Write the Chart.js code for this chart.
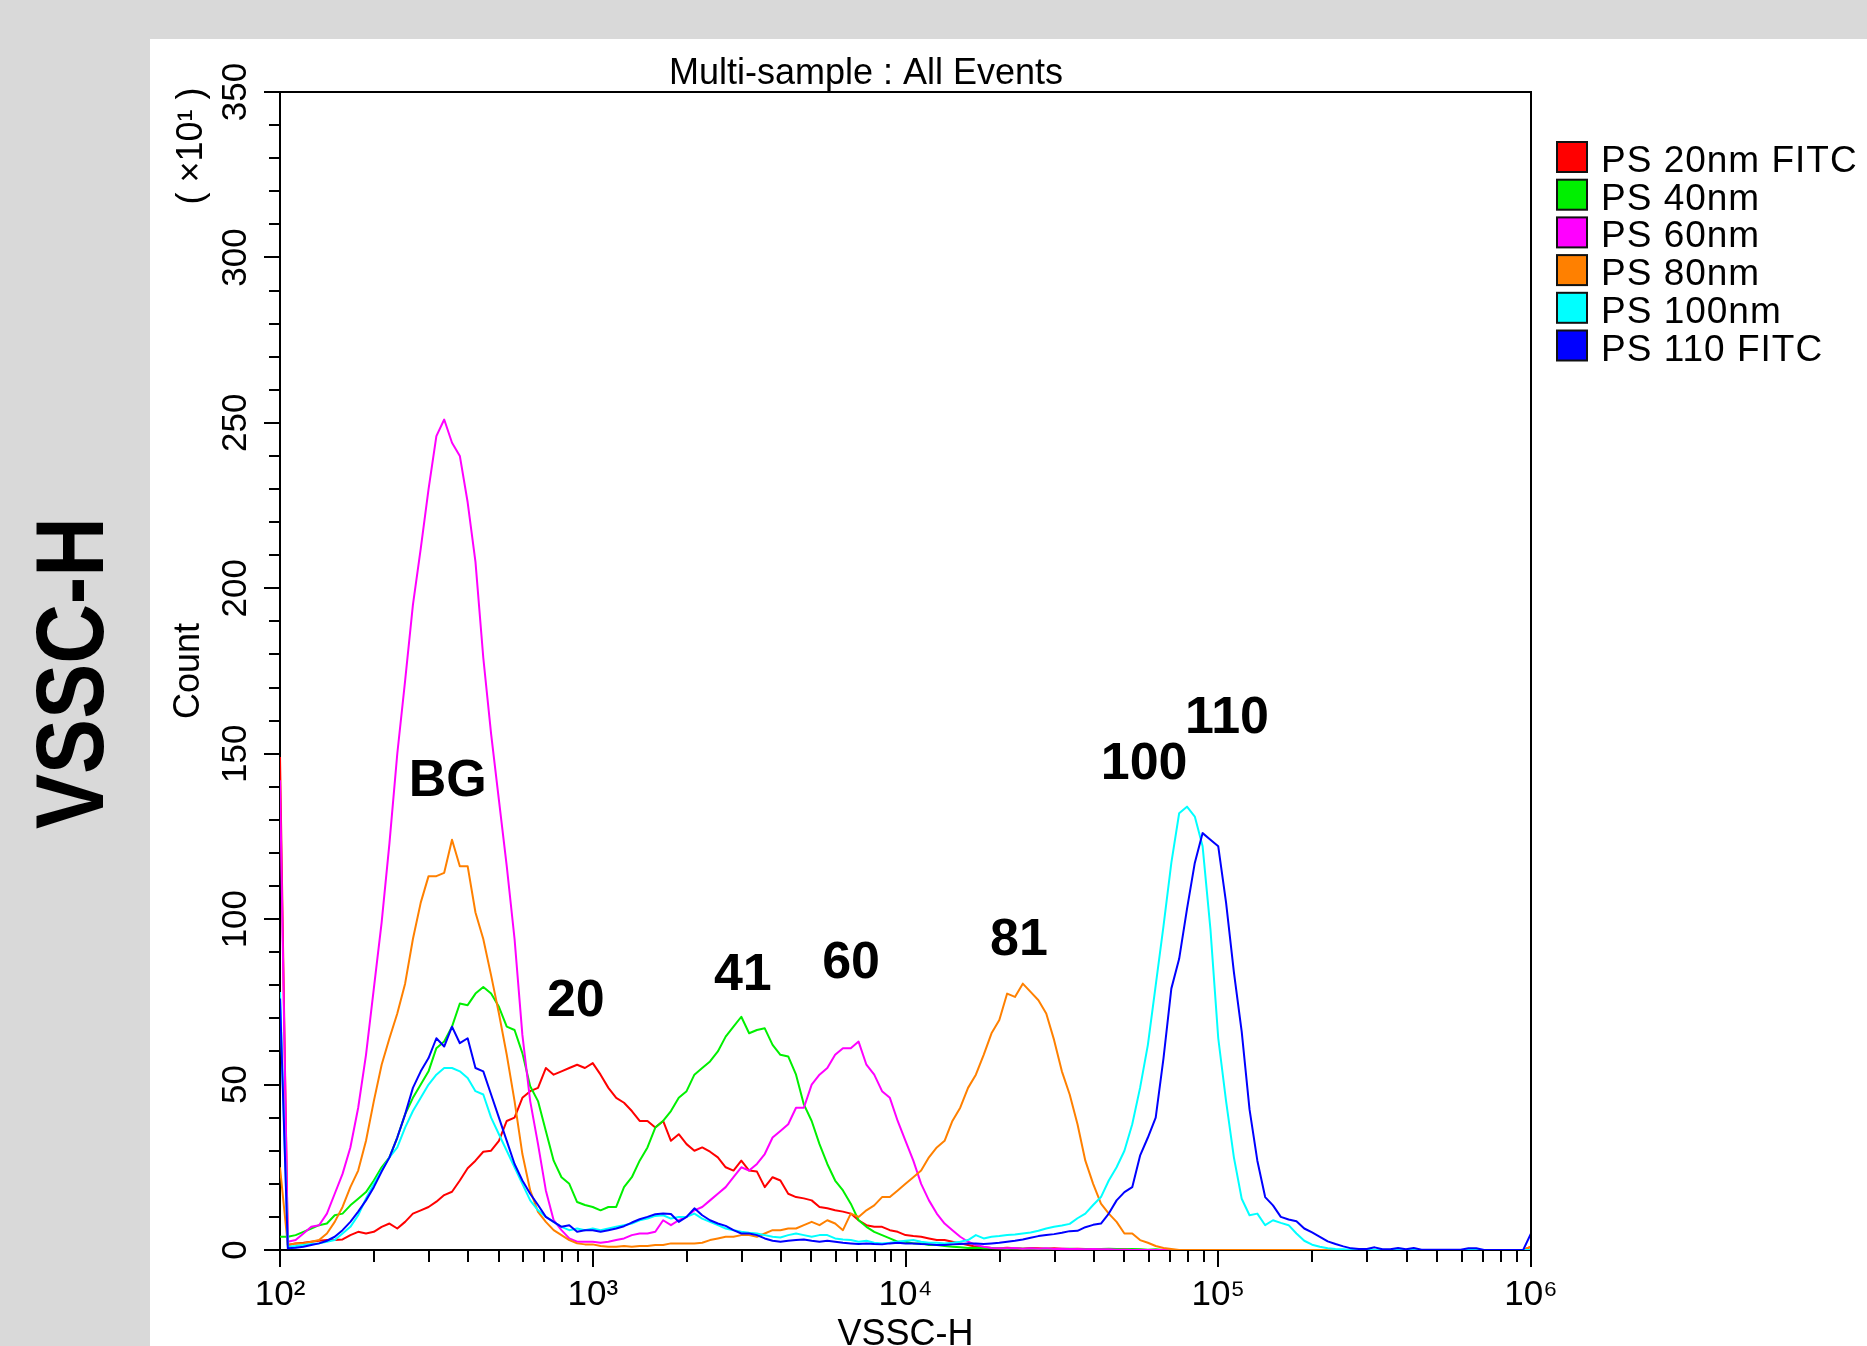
<!DOCTYPE html>
<html>
<head>
<meta charset="utf-8">
<script src="https://cdn.jsdelivr.net/npm/chart.js@4.4.1/dist/chart.umd.min.js"></script>
<style>
html, body { margin: 0; padding: 0; width: 1867px; height: 1346px; overflow: hidden; background: #d9d9d9; }
canvas { display: block; }
</style>
</head>
<body>
<canvas id="c" width="1867" height="1346"></canvas>
<script>
// ---------- data ----------
// channel positions (log10 of VSSC-H)
const channelExp = [
  2.000,2.025,2.050,2.075,2.100,2.125,2.150,2.175,
  2.200,2.225,2.250,2.275,2.300,2.325,2.350,2.375,
  2.400,2.425,2.450,2.475,2.500,2.525,2.550,2.575,
  2.600,2.625,2.650,2.675,2.700,2.725,2.750,2.775,
  2.800,2.825,2.850,2.875,2.900,2.925,2.950,2.975,
  3.000,3.025,3.050,3.075,3.100,3.125,3.150,3.175,
  3.200,3.225,3.250,3.275,3.300,3.325,3.350,3.375,
  3.400,3.425,3.450,3.475,3.500,3.525,3.550,3.575,
  3.600,3.625,3.650,3.675,3.700,3.725,3.750,3.775,
  3.800,3.825,3.850,3.875,3.900,3.925,3.950,3.975,
  4.000,4.025,4.050,4.075,4.100,4.125,4.150,4.175,
  4.200,4.225,4.250,4.275,4.300,4.325,4.350,4.375,
  4.400,4.425,4.450,4.475,4.500,4.525,4.550,4.575,
  4.600,4.625,4.650,4.675,4.700,4.725,4.750,4.775,
  4.800,4.825,4.850,4.875,4.900,4.925,4.950,4.975,
  5.000,5.025,5.050,5.075,5.100,5.125,5.150,5.175,
  5.200,5.225,5.250,5.275,5.300,5.325,5.350,5.375,
  5.400,5.425,5.450,5.475,5.500,5.525,5.550,5.575,
  5.600,5.625,5.650,5.675,5.700,5.725,5.750,5.775,
  5.800,5.825,5.850,5.875,5.900,5.925,5.950,5.975,
  6.000
];

const seriesLabels = ['PS 20nm FITC', 'PS 40nm', 'PS 60nm', 'PS 80nm', 'PS 100nm', 'PS 110 FITC'];

// counts (x10^1)
const ps20 = [
  149,1.5,2,2.2,2.5,2.8,3,3,3.2,4.5,
  5.5,5,5.5,7,8,6.5,8.5,11,12,13,
  14.6,16.6,17.6,21,24.7,27,29.7,30,33,39,
  40,46,48,49,55,53,54,55,56,55,
  56.5,53,49,46,44.5,42,39,39,37,39,
  33,35,32,30,31,29.7,28,25,24,27,
  24,23.7,19,22,21,17,16,15.6,15,13,
  12.6,12,11.6,11,9,7.5,7,7,6,5.5,
  4.5,4.2,4,3.5,3,3,2.5,2,1.5,1,
  0.8,0.6,0.5,0.7,0.5,0.4,0.6,0.5,0.4,0.5,
  0.4,0.3,0.4,0.3,0.3,0.2,0.3,0.2,0.2,0.1,
  0.1,0,0,0,0,0,0,0,0,0,
  0,0,0,0,0,0,0,0,0,0,
  0,0,0,0,0,0,0,0,0,0,
  0,0,0,0,0,0,0,0,0,0,
  0,0,0,0,0,0,0,0,0,0,
  1
];
const ps40 = [
  4,4,4.5,5.5,6.5,7.5,8,10.5,11,13.5,
  15.5,17.5,21,25,28,34,41,46,50,54,
  61,63,67.5,74.5,74,77.5,79.5,77.5,73.5,67.5,
  66.5,59.5,49.5,45,36,27,22,20,14.5,13.6,
  13,12,13,13,19,22,27,31,37,39,
  42,46,48,53,55,57,60,64.5,67.5,70.5,
  65.5,66.5,67,62,59,58.5,53,44,39,32,
  26,21,18,14,9,7,5.5,4.5,3.5,2.5,
  2.5,2,2,1.5,1.5,1.2,1,0.8,0.6,0.7,
  0.5,0.6,0.5,0.4,0.5,0.4,0.4,0.3,0.4,0.3,
  0.3,0.4,0.3,0.3,0.2,0.3,0.4,0.3,0.2,0.3,
  0.2,0.1,0.2,0,0,0,0,0,0,0,
  0,0,0,0,0,0,0,0,0,0,
  0,0,0,0,0,0,0,0,0,0,
  0,0,0,0,0,0,0,0,0,0,
  0,0,0,0,0,0,0,0,0,0,
  0
];
const ps60 = [
  142,2.5,3,5,7,7.5,11,17,23,31,
  43,59,79,99,123,150,172,195,212,230,
  246,251,244,240,226,208,179,156,136,116,
  94,65,45,32,18,9,6,3.5,2.5,2.5,
  2.5,2.2,2.5,3,3.5,4.5,5,5,5.5,9,
  7.5,9,10,12,13,15,17,19,22,25,
  24,26,29,34,36,38,43,43,50,53,
  55,59,61,61,63,56,53,48,46,39,
  33,27,20,15,11,8,6,4,2.5,1.5,
  1,0.6,0.5,0.5,0.6,0.4,0.5,0.4,0.5,0.3,
  0.4,0.3,0.3,0.2,0.3,0.2,0.2,0.1,0.1,0,
  0,0,0,0,0,0,0,0,0,0,
  0,0,0,0,0,0,0,0,0,0,
  0,0,0,0,0,0,0,0,0,0,
  0,0,0,0,0,0,0,0,0,0,
  0,0,0,0,0,0,0,0,0,0,
  0
];
const ps80 = [
  25,1.5,2,2,2.5,3,5,8.5,13,19,
  24,33,45,56,64,71.5,80.5,94,105,113,
  113,114,124,116,116,102,94,83,71.5,59,
  45,29,18,11.5,8.5,6,4.5,3,2,1.7,
  1.7,1.2,1,1,1.2,1,1.2,1.2,1.5,1.5,
  2,2,2,2,2.2,3,3.5,4,4,4.5,
  4.5,4,5,6,6,6.5,6.5,7.5,8.5,7.5,
  9,8,6,11,10,12,13.5,16,16,18,
  20,22,24,28,31,33,39,43,49,53,
  59,65.5,69.5,77.5,76.5,80.5,78,75.5,71.5,63.5,
  54,47,38,27,20,14,11,8.5,5,5,
  3,2.2,1.2,0.6,0.3,0,0,0,0,0,
  0,0,0,0,0,0,0,0,0,0,
  0,0,0,0,0,0,0,0,0,0,
  0,0,0,0,0,0,0,0,0,0,
  0,0,0,0,0,0,0,0,0,0,
  1
];
const ps100 = [
  78,1,1.2,1.5,1.8,2,2.5,3,5,7,
  10.5,15.6,20,24,28,31,37,42,46,50,
  53,55,55,54,52,48,47,40,35,30,
  25,20,15,12,10,8.5,7,6,6.5,6,
  6.5,6,6.5,7,7.5,8,9,9.5,10.3,10.5,
  9.5,10,10,11,9.5,8.5,7.5,6.5,6,5.5,
  5.2,5,4.5,4,3.8,4.5,5,4.5,4,4.5,
  4.5,3.5,3.2,3,2.5,2.8,2.2,2,2.2,2.5,
  2.8,3,2.5,2.2,2.2,2,2.2,2.5,3,4.5,
  3.5,4,4.2,4.5,4.7,5,5.3,5.8,6.5,7,
  7.4,7.9,9.6,11,13.6,16,21,25,30,38,
  49,62,80,98,117,132,134,131,122,97,
  64,45,28,15.5,10.5,11,7.5,9,8.2,7.5,
  5,2.8,1.6,1,0.5,0.3,0.2,0,0,0,
  0,0,0,0,0,0,0,0,0,0,
  0,0,0,0,0,0,0,0,0,0,
  0
];
const ps110 = [
  76,0.5,0.7,1,1.5,2,2.8,4,6,8.5,
  11.6,15,19,23.7,28,34,41,49,54,58,
  64,61.5,67.5,62.5,64,55,54,47,40,33,
  26,21,17,13.6,10,8.5,7,7.5,5.5,6,
  6,5.5,6,6.5,7.2,8.3,9.3,10,10.8,11,
  10.9,8.5,10,12.6,10.5,9,8,7.3,6,5,
  5,4.5,3.5,2.8,2.5,2.8,3,3.2,2.8,2.5,
  2.8,2.5,2.2,2,1.8,2,1.8,1.7,2,2.2,
  2,2,1.8,1.7,1.5,1.5,1.7,1.8,2,2,
  1.8,2,2.2,2.5,2.8,3.2,3.7,4.2,4.5,4.8,
  5.2,5.7,5.8,6.9,7.6,8,11,15,17.5,19,
  28.5,34,40,58,79,88,103,117,126,124,
  122,105,84,66,42.5,27,16,13.5,10,9.2,
  8.7,6.5,5.3,4,2.6,1.8,1.1,0.5,0.3,0.3,
  0.8,0.2,0.2,0.6,0.2,0.6,0.1,0.1,0.1,0.1,
  0.1,0.1,0.5,0.5,0,0,0,0,0,0,
  5
];

// axis ticks
const xDecades = [100, 1000, 10000, 100000, 1000000];
const xTickLabels = ['10²', '10³', '10⁴', '10⁵', '10⁶'];
const yMajorStep = 50;

// peak annotations: [text, VSSC-H position, count position]
const peakNotes = [
  ['BG', 344, 141.7],
  ['20', 883, 75],
  ['41', 3020, 82.8],
  ['60', 6700, 86.4],
  ['81', 23070, 93.4],
  ['100', 57940, 146.6],
  ['110', 106700, 160.5]
];

// ---------- styles ----------
const seriesColors = ['#ff0000', '#00f000', '#ff00ff', '#ff8000', '#00ffff', '#0000ff'];
const FONT = '"Liberation Sans", Arial, Helvetica, sans-serif';

const allSeries = [ps20, ps40, ps60, ps80, ps100, ps110];
const datasets = allSeries.map((vals, k) => ({
  label: seriesLabels[k],
  data: channelExp.map((e, i) => ({ x: Math.pow(10, e), y: vals[i] })),
  borderColor: seriesColors[k],
  backgroundColor: seriesColors[k],
  borderWidth: 2,
  pointRadius: 0,
  tension: 0,
  fill: false,
  order: allSeries.length - k
}));

const xTickValues = [];
for (let d = 0; d < xDecades.length - 1; d++) {
  for (let m = 1; m <= 9; m++) xTickValues.push(xDecades[d] * m);
}
xTickValues.push(xDecades[xDecades.length - 1]);

const decorations = {
  id: 'decorations',
  beforeDraw(chart) {
    const c = chart.ctx;
    c.save();
    c.fillStyle = '#d9d9d9';
    c.fillRect(0, 0, chart.width, chart.height);
    c.fillStyle = '#ffffff';
    c.fillRect(150, 39, chart.width - 150, chart.height - 39);
    c.restore();
  },
  afterDraw(chart) {
    const { ctx, chartArea: a, scales: { x, y } } = chart;
    ctx.save();
    // frame top/right
    ctx.strokeStyle = '#000';
    ctx.lineWidth = 2;
    ctx.beginPath();
    ctx.moveTo(a.left, a.top);
    ctx.lineTo(a.right, a.top);
    ctx.lineTo(a.right, a.bottom);
    ctx.stroke();
    // minor ticks
    ctx.beginPath();
    y.ticks.forEach(t => {
      if (t.value % yMajorStep !== 0) {
        const p = Math.round(y.getPixelForValue(t.value));
        ctx.moveTo(a.left, p);
        ctx.lineTo(a.left - 11, p);
      }
    });
    x.ticks.forEach(t => {
      if (!xDecades.includes(t.value)) {
        const p = Math.round(x.getPixelForValue(t.value));
        ctx.moveTo(p, a.bottom);
        ctx.lineTo(p, a.bottom + 12);
      }
    });
    ctx.stroke();

    // header title
    ctx.fillStyle = '#000';
    ctx.font = '36px ' + FONT;
    ctx.textAlign = 'center';
    ctx.textBaseline = 'alphabetic';
    ctx.fillText('Multi-sample : All Events', a.left + 586, a.top - 8);

    // exponent note on y axis
    ctx.save();
    ctx.translate(192, a.top + 54);
    ctx.rotate(-Math.PI / 2);
    ctx.textBaseline = 'middle';
    ctx.fillText('( ×10¹ )', 0, 0);
    ctx.restore();

    // peak annotations
    ctx.font = 'bold 52px ' + FONT;
    ctx.textAlign = 'center';
    ctx.textBaseline = 'middle';
    peakNotes.forEach(([txt, xv, yv]) => {
      ctx.fillText(txt, x.getPixelForValue(xv), y.getPixelForValue(yv));
    });

    // legend
    ctx.font = '37px ' + FONT;
    ctx.textAlign = 'left';
    ctx.textBaseline = 'alphabetic';
    try { ctx.letterSpacing = '1px'; } catch (e) {}
    chart.data.datasets.forEach((ds, k) => {
      const top = 142 + k * 37.7;
      ctx.fillStyle = ds.borderColor;
      ctx.fillRect(1557, top, 30, 30);
      ctx.strokeStyle = '#111';
      ctx.lineWidth = 2;
      ctx.strokeRect(1557, top, 30, 30);
      ctx.fillStyle = '#000';
      ctx.fillText(ds.label, 1601, top + 30);
    });
    try { ctx.letterSpacing = '0px'; } catch (e) {}

    // side label
    ctx.save();
    ctx.translate(77, 673);
    ctx.rotate(-Math.PI / 2);
    ctx.scale(0.86, 1);
    ctx.font = 'bold 96px ' + FONT;
    ctx.textAlign = 'center';
    ctx.textBaseline = 'middle';
    ctx.fillStyle = '#000';
    ctx.fillText('VSSC-H', 0, 0);
    ctx.restore();

    ctx.restore();
  }
};

new Chart(document.getElementById('c'), {
  type: 'line',
  data: { datasets },
  options: {
    responsive: false,
    animation: false,
    devicePixelRatio: 1,
    layout: { padding: { left: 150, top: 92, right: 336, bottom: 0 } },
    plugins: { legend: { display: false }, tooltip: { enabled: false }, title: { display: false } },
    elements: { line: { borderJoinStyle: 'round' } },
    scales: {
      x: {
        type: 'logarithmic',
        position: 'bottom',
        min: 100,
        max: 1000000,
        afterBuildTicks: s => { s.ticks = xTickValues.map(v => ({ value: v, major: xDecades.includes(v) })); },
        afterFit: s => { s.height = 96; },
        border: { display: true, color: '#000', width: 2 },
        grid: {
          drawOnChartArea: false,
          drawTicks: true,
          tickLength: 17,
          lineWidth: 2,
          color: c => (c.tick && xDecades.includes(c.tick.value)) ? '#000' : 'rgba(0,0,0,0)'
        },
        ticks: {
          autoSkip: false,
          maxRotation: 0,
          minRotation: 0,
          padding: 7,
          color: '#000',
          font: { family: FONT, size: 35 },
          callback: v => { const k = xDecades.indexOf(v); return k >= 0 ? xTickLabels[k] : ''; }
        },
        title: {
          display: true,
          text: 'VSSC-H',
          color: '#000',
          font: { family: FONT, size: 36 },
          padding: { top: 0, bottom: -11 }
        }
      },
      y: {
        type: 'linear',
        position: 'left',
        min: 0,
        max: 350,
        afterFit: s => { s.width = 130; },
        border: { display: true, color: '#000', width: 2 },
        grid: {
          drawOnChartArea: false,
          drawTicks: true,
          tickLength: 16,
          lineWidth: 2,
          color: c => (c.tick && c.tick.value % yMajorStep === 0) ? '#000' : 'rgba(0,0,0,0)'
        },
        ticks: {
          stepSize: 10,
          autoSkip: false,
          minRotation: 90,
          maxRotation: 90,
          crossAlign: 'center',
          padding: -2,
          color: '#000',
          font: { family: FONT, size: 35 },
          callback: v => (v % yMajorStep === 0 ? String(v) : '')
        },
        title: {
          display: true,
          text: 'Count',
          color: '#000',
          font: { family: FONT, size: 36 },
          padding: { top: 17, bottom: 0 }
        }
      }
    }
  },
  plugins: [decorations]
});
</script>
</body>
</html>
